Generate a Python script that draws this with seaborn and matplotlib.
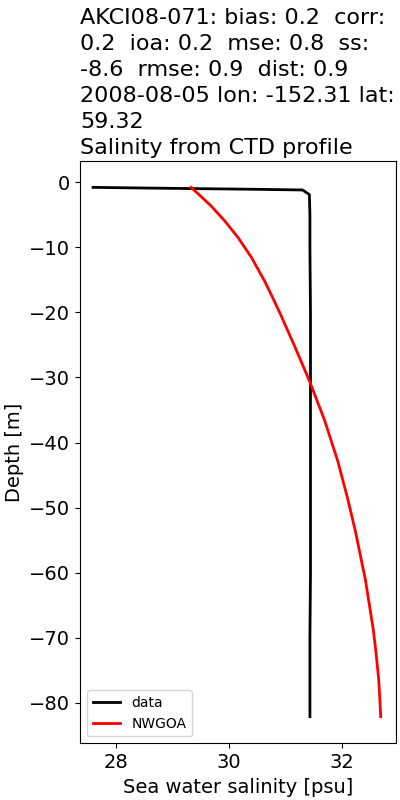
#!/usr/bin/env python3
"""Salinity profile: CTD cast vs NWGOA model."""

import matplotlib

matplotlib.use("Agg")
import matplotlib.pyplot as plt
import pandas as pd
import seaborn as sns

# observed CTD profile
data_sal = [27.60, 28.50, 29.50, 30.50, 31.30, 31.42, 31.43, 31.43, 31.44, 31.44,
            31.44, 31.44, 31.44, 31.43, 31.43]
data_depth = [-0.8, -0.9, -1.0, -1.1, -1.2, -1.9, -5.0, -10.0, -20.0, -30.0,
              -40.0, -50.0, -60.0, -70.0, -82.1]

# model profile
model_sal = [29.33, 29.47, 29.69, 29.93, 30.16, 30.40, 30.63, 30.77, 30.91,
             31.17, 31.42, 31.69, 31.92, 32.09, 32.23, 32.41, 32.55, 32.60,
             32.645, 32.665, 32.68]
model_depth = [-0.8, -1.9, -3.7, -6.0, -8.5, -11.6, -15.2, -17.7, -20.3,
               -25.4, -30.5, -36.6, -42.8, -48.4, -53.5, -61.1, -68.8, -72.5,
               -76.5, -79.5, -82.1]

x_ticks = [28, 30, 32]

title = (
    "AKCI08-071: bias: 0.2  corr:\n"
    "0.2  ioa: 0.2  mse: 0.8  ss:\n"
    "-8.6  rmse: 0.9  dist: 0.9\n"
    "2008-08-05 lon: -152.31 lat:\n"
    "59.32\n"
    "Salinity from CTD profile"
)


def main() -> None:
    df = pd.concat(
        [
            pd.DataFrame({"sal": data_sal, "depth": data_depth, "src": "data"}),
            pd.DataFrame({"sal": model_sal, "depth": model_depth, "src": "NWGOA"}),
        ],
        ignore_index=True,
    )

    plt.rcParams["font.size"] = 14
    fig = plt.figure(figsize=(4, 8), dpi=100)
    ax = fig.add_axes([0.2, 0.0709, 0.79, 0.728])

    sns.lineplot(
        data=df,
        x="sal",
        y="depth",
        hue="src",
        palette={"data": "black", "NWGOA": "red"},
        estimator=None,
        sort=False,
        linewidth=2,
        ax=ax,
    )

    ax.set_xlim(27.37, 32.95)
    ax.set_ylim(-86.2, 3.27)
    ax.set_xticks(x_ticks)
    ax.set_xlabel("Sea water salinity [psu]")
    ax.set_ylabel("Depth [m]")
    ax.set_title(title, loc="left", fontsize=16, linespacing=1.38, pad=5)
    ax.legend(loc="lower left", fontsize=10, title=None)

    fig.savefig("out.png", dpi=100)


if __name__ == "__main__":
    main()
